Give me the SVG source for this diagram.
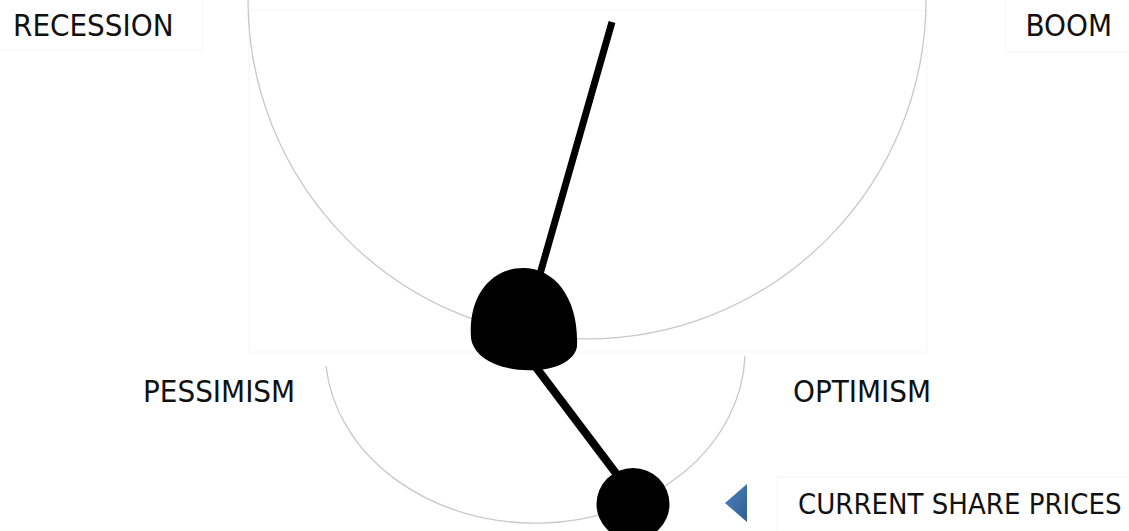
<svg xmlns="http://www.w3.org/2000/svg" width="1129" height="531" viewBox="0 0 1129 531">
  <style>
    .label { font-family: "DejaVu Sans Condensed", "DejaVu Sans", "Liberation Sans", sans-serif; fill: #111; }
    .frame { fill: none; stroke: #f5f5f5; stroke-width: 1; }
    .swing { fill: none; stroke: #c8c8c8; stroke-width: 1.3; }
    .rod { stroke: #000; stroke-linecap: butt; }
    .bob { fill: #000; }
  </style>
  <defs>
    <linearGradient id="pointerFill" x1="0" y1="0" x2="1" y2="1">
      <stop offset="0" stop-color="#4a82bb"/>
      <stop offset="1" stop-color="#2f5f93"/>
    </linearGradient>
  </defs>
  <rect width="1129" height="531" fill="#fff"/>

  <!-- faint text-box frames -->
  <g id="frames">
    <rect class="frame" x="249" y="10" width="678" height="342"/>
    <rect class="frame" x="-1" y="-1" width="204" height="51"/>
    <rect class="frame" x="1005" y="-1" width="125" height="53"/>
    <rect class="frame" x="777" y="477" width="353" height="55"/>
  </g>

  <!-- swing paths of the two bobs -->
  <g id="connectors">
    <path class="swing" d="M 248,0 A 339,339 0 0 0 926,0"/>
    <path class="swing" d="M 326,366 A 210,173 0 0 0 745,356"/>
    <line class="rod" x1="612" y1="22" x2="540" y2="274" stroke-width="7"/>
    <line class="rod" x1="535" y1="366" x2="618" y2="476" stroke-width="8"/>
  </g>

  <!-- upper bob -->
  <g id="bob-upper">
    <path class="bob" d="M 471,338 C 468,296 491,268 523,268 C 556,268 579,300 577,346 C 576,358 560,369 536,370 C 504,372 474,360 471,338 Z"/>
  </g>

  <!-- lower bob -->
  <g id="bob-lower">
    <ellipse class="bob" cx="633" cy="504" rx="36.5" ry="36"/>
  </g>

  <!-- pointer -->
  <g id="pointer">
    <polygon points="725,503 747,484 747,522" fill="url(#pointerFill)"/>
  </g>

  <g id="label-recession"><text class="label" x="13" y="36" font-size="31">RECESSION</text></g>
  <g id="label-boom"><text class="label" x="1112" y="36" font-size="31" text-anchor="end">BOOM</text></g>
  <g id="label-pessimism"><text class="label" x="143" y="402" font-size="31">PESSIMISM</text></g>
  <g id="label-optimism"><text class="label" x="793" y="402" font-size="31">OPTIMISM</text></g>
  <g id="label-current"><text class="label" x="798" y="514" font-size="29">CURRENT SHARE PRICES</text></g>
</svg>
